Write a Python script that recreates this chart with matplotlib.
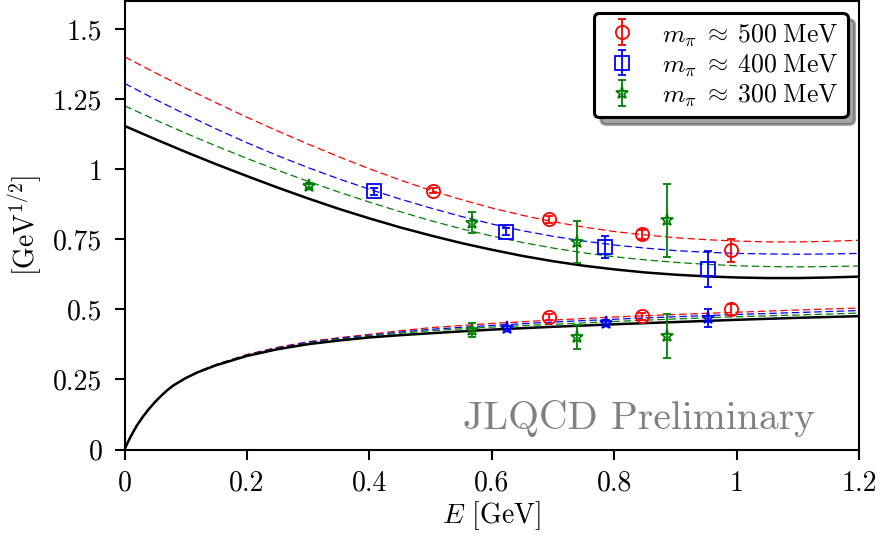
import matplotlib
matplotlib.use("Agg")
from matplotlib import pyplot as plt
from matplotlib.patches import Shadow

plt.rcParams['font.family'] = 'serif'
plt.rcParams['font.serif'] = ['cmr10']
plt.rcParams['mathtext.fontset'] = 'cm'
plt.rcParams['axes.formatter.use_mathtext'] = True

# fit curves (upper branch)
e_up = [0, 0.05, 0.1, 0.15, 0.2, 0.25, 0.3, 0.35, 0.4, 0.45, 0.5, 0.55, 0.6,
        0.65, 0.7, 0.75, 0.8, 0.85, 0.9, 0.95, 1.0, 1.05, 1.1, 1.15, 1.2]
black_up = [1.155, 1.108, 1.062, 1.018, 0.976, 0.935, 0.896, 0.859, 0.825, 0.793, 0.764, 0.737, 0.713,
            0.691, 0.672, 0.656, 0.643, 0.632, 0.624, 0.618, 0.614, 0.612, 0.612, 0.614, 0.617]
red_up = [1.402, 1.345, 1.290, 1.237, 1.186, 1.137, 1.090, 1.045, 1.002, 0.962, 0.925, 0.892, 0.862,
          0.836, 0.813, 0.794, 0.778, 0.766, 0.756, 0.749, 0.744, 0.741, 0.741, 0.743, 0.747]
blue_up = [1.307, 1.250, 1.196, 1.144, 1.095, 1.049, 1.006, 0.966, 0.929, 0.894, 0.862, 0.832, 0.805,
           0.781, 0.761, 0.744, 0.730, 0.719, 0.710, 0.704, 0.700, 0.698, 0.697, 0.698, 0.700]
green_up = [1.227, 1.177, 1.129, 1.083, 1.039, 0.997, 0.957, 0.919, 0.883, 0.849, 0.817, 0.788, 0.762,
            0.739, 0.719, 0.702, 0.688, 0.677, 0.668, 0.661, 0.656, 0.653, 0.652, 0.653, 0.655]

# lower branch
e_lo = [0, 0.005, 0.01, 0.02, 0.03, 0.04, 0.05, 0.06, 0.07, 0.08, 0.1, 0.12, 0.15, 0.2, 0.25, 0.3,
        0.35, 0.4, 0.45, 0.5, 0.6, 0.7, 0.8, 0.9, 1.0, 1.1, 1.2]
black_lo = [0, 0.024, 0.046, 0.085, 0.117, 0.145, 0.170, 0.192, 0.212, 0.229, 0.255, 0.276, 0.301,
            0.334, 0.358, 0.376, 0.389, 0.400, 0.408, 0.415, 0.428, 0.438, 0.447, 0.455, 0.463, 0.470, 0.476]
red_lo = [0, 0.024, 0.046, 0.085, 0.117, 0.145, 0.170, 0.192, 0.212, 0.229, 0.256, 0.278, 0.304,
          0.339, 0.365, 0.385, 0.399, 0.411, 0.424, 0.435, 0.450, 0.462, 0.473, 0.482, 0.490, 0.498, 0.505]
blue_lo = [0, 0.024, 0.046, 0.085, 0.117, 0.145, 0.170, 0.192, 0.212, 0.229, 0.256, 0.277, 0.303,
           0.338, 0.363, 0.383, 0.397, 0.408, 0.419, 0.429, 0.443, 0.455, 0.465, 0.474, 0.482, 0.489, 0.496]
green_lo = [0, 0.024, 0.046, 0.085, 0.117, 0.145, 0.170, 0.192, 0.212, 0.229, 0.255, 0.277, 0.302,
            0.336, 0.361, 0.380, 0.394, 0.405, 0.415, 0.424, 0.437, 0.447, 0.457, 0.466, 0.474, 0.480, 0.487]

# lattice points: E, value, error
red_e = [0.504, 0.693, 0.845, 0.991]
red_v = [0.924, 0.821, 0.768, 0.711]
red_err = [0.008, 0.012, 0.015, 0.042]
red_e2 = [0.693, 0.845, 0.991]
red_v2 = [0.473, 0.476, 0.501]
red_err2 = [0.012, 0.012, 0.02]

blue_e = [0.408, 0.623, 0.785, 0.953]
blue_v = [0.921, 0.778, 0.722, 0.643]
blue_err = [0.012, 0.012, 0.04, 0.064]
blue_e2 = [0.624, 0.786, 0.953]
blue_v2 = [0.434, 0.451, 0.469]
blue_err2 = [0.008, 0.01, 0.033]

green_e = [0.301, 0.567, 0.739, 0.886]
green_v = [0.942, 0.810, 0.739, 0.818]
green_err = [0.01, 0.037, 0.075, 0.131]
green_e2 = [0.568, 0.739, 0.886]
green_v2 = [0.427, 0.403, 0.405]
green_err2 = [0.026, 0.043, 0.08]

labels = [r'$m_\pi\;\approx\;500\;\mathrm{MeV}$', r'$m_\pi\;\approx\;400\;\mathrm{MeV}$',
          r'$m_\pi\;\approx\;300\;\mathrm{MeV}$']


def main():
    fig = plt.figure(figsize=(8.83, 5.44), dpi=100)
    ax = fig.add_axes([0.141, 0.1737, 0.832, 0.824])

    dash = dict(lw=0.9, dashes=(6, 3))
    for c, up, lo in [('red', red_up, red_lo), ('blue', blue_up, blue_lo), ('green', green_up, green_lo)]:
        ax.plot(e_up, up, color=c, **dash)
        ax.plot(e_lo, lo, color=c, **dash)
    ax.plot(e_up, black_up, color='black', lw=1.8)
    ax.plot(e_lo, black_lo, color='black', lw=1.8)

    eb = dict(ls='none', mfc='none', ms=9.5, mew=1.3, elinewidth=1.3, capsize=3, capthick=1.3, zorder=5)
    ax.errorbar(red_e, red_v, yerr=red_err, fmt='o', color='red', label=labels[0], **eb)
    ax.errorbar(blue_e, blue_v, yerr=blue_err, fmt='s', color='blue', label=labels[1], **eb)
    ax.errorbar(green_e, green_v, yerr=green_err, fmt='*', color='green', label=labels[2], **eb)
    ax.errorbar(red_e2, red_v2, yerr=red_err2, fmt='o', color='red', **eb)
    ax.errorbar(blue_e2, blue_v2, yerr=blue_err2, fmt='*', color='blue', **eb)
    ax.errorbar(green_e2, green_v2, yerr=green_err2, fmt='*', color='green', **eb)

    ax.set_xlim(0, 1.2)
    ax.set_ylim(0, 1.6)
    xt = [0, 0.2, 0.4, 0.6, 0.8, 1.0, 1.2]
    yt = [0, 0.25, 0.5, 0.75, 1.0, 1.25, 1.5]
    ax.set_xticks(xt)
    ax.set_xticklabels(['%g' % v for v in xt])
    ax.set_yticks(yt)
    ax.set_yticklabels(['%g' % v for v in yt])
    ax.tick_params(labelsize=20, width=1.5, length=7)
    ax.tick_params(axis='x', pad=8)
    ax.tick_params(axis='y', pad=9)
    for s in ax.spines.values():
        s.set_linewidth(1.5)

    ax.set_xlabel(r'$E$ [GeV]', fontsize=20, labelpad=2)
    ax.set_ylabel(r'[GeV$^{1/2}$]', fontsize=20, labelpad=6)

    ax.text(0.94, 0.045, 'JLQCD Preliminary', transform=ax.transAxes, ha='right', va='baseline',
            fontsize=28.5, color='gray')

    leg = ax.legend(loc='upper right', fontsize=18.5, fancybox=True, framealpha=1,
                    edgecolor='black', borderaxespad=0.45, handletextpad=0.8,
                    labelspacing=0.17, borderpad=0.35, handlelength=1.5)
    leg.get_frame().set_linewidth(2.2)
    leg.set_zorder(10)

    fig.canvas.draw()
    sh = Shadow(leg.legendPatch, 5, -5)
    sh.set_zorder(9)
    ax.add_artist(sh)
    sh.set_clip_on(False)

    fig.savefig('out.png', dpi=100)


if __name__ == "__main__":
    main()
